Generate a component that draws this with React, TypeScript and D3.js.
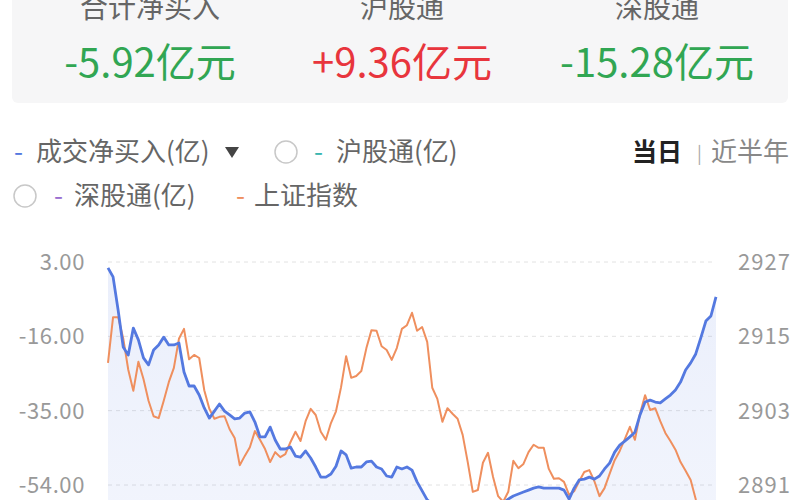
import React from 'react';
import * as d3 from 'd3';

// 当日 intraday, one point every 2 minutes (0..240)
const netBuy = [
  1.5, -0.8, -9.3, -18.7, -20.8, -13.9, -16.9, -21.5, -23.3, -19.5,
  -18.2, -16.2, -18.2, -18.2, -17.7, -25.1, -28.7, -28.7, -31.0, -34.3,
  -36.9, -35.1, -33.3, -35.1, -36.1, -37.1, -36.9, -35.6, -35.3, -37.9,
  -41.7, -41.7, -39.2, -42.5, -44.8, -44.8, -44.3, -46.6, -46.9, -45.3,
  -47.1, -49.4, -52.0, -52.0, -51.2, -49.2, -45.3, -46.3, -49.7, -49.4,
  -49.4, -48.1, -47.9, -49.4, -49.9, -51.7, -52.0, -49.4, -49.9, -49.4,
  -50.2, -53.2, -55.5, -57.8, -58.9, -59.4, -60.1, -60.7, -60.9, -61.2,
  -61.7, -61.9, -62.4, -62.2, -61.7, -61.2, -60.7, -59.6, -58.6, -57.6,
  -56.8, -56.3, -55.8, -55.3, -54.8, -54.5, -54.8, -54.8, -54.8, -54.8,
  -55.3, -57.6, -54.8, -52.7, -52.5, -52.0, -52.5, -51.7, -49.9, -48.4,
  -45.6, -43.8, -42.8, -41.7, -40.5, -36.1, -32.8, -32.3, -32.8, -33.0,
  -32.0, -31.0, -29.7, -27.7, -24.6, -22.8, -20.5, -16.4, -12.1, -10.8,
  -5.92,
];

const shIndex = [
  2910.7, 2918.1, 2918.1, 2914.7, 2909.6, 2906.2, 2910.9, 2908.1, 2904.6, 2902.1,
  2901.8, 2904.6, 2907.6, 2909.9, 2914.6, 2916.2, 2911.3, 2912.0, 2911.5, 2906.3,
  2903.3, 2901.7, 2902.0, 2902.1, 2900.0, 2898.6, 2894.2, 2895.7, 2897.1, 2899.7,
  2898.3, 2896.8, 2894.7, 2896.3, 2895.5, 2896.0, 2897.9, 2899.6, 2898.1, 2901.3,
  2903.3, 2902.3, 2899.6, 2898.3, 2901.0, 2902.9, 2906.8, 2911.8, 2908.3, 2908.6,
  2909.4, 2913.1, 2916.0, 2915.9, 2913.4, 2912.8, 2911.2, 2913.1, 2916.2, 2916.8,
  2918.8, 2915.9, 2916.5, 2914.1, 2906.7, 2904.9, 2901.2, 2903.4, 2902.5, 2901.7,
  2899.1, 2894.7, 2889.9, 2890.2, 2894.6, 2896.2, 2892.3, 2889.2, 2888.3, 2889.9,
  2894.9, 2893.7, 2894.4, 2896.3, 2897.5, 2897.0, 2897.0, 2893.6, 2892.0, 2892.1,
  2891.5, 2889.4, 2890.0, 2891.6, 2893.1, 2893.4, 2891.6, 2889.2, 2890.5, 2892.8,
  2895.0, 2896.5, 2898.4, 2900.4, 2898.3, 2902.5, 2905.5, 2903.1, 2903.4, 2901.3,
  2899.4, 2898.1, 2896.7, 2894.7, 2893.3, 2891.8, 2888.7, 2886.6, 2885.4, 2884.1,
  2882.9,
];

const leftTicks = [3, -16, -35, -54];
const rightTicks = [2927, 2915, 2903, 2891];

const summaryTitles = ['合计净买入', '沪股通', '深股通'];
const summaryValues = ['-5.92亿元', '+9.36亿元', '-15.28亿元'];

const FONT = '"Noto Sans CJK SC", "Noto Sans", sans-serif';
const BLUE = '#5479e0';
const ORANGE = '#ef8f5e';
const GREEN = '#31a653';
const RED = '#e8353d';

const App: React.FC = () => {
  const minutes = netBuy.map((_, i) => i * 2);

  const x = d3.scaleLinear().domain([0, 240]).range([108, 716]);
  const yLeft = d3.scaleLinear().domain([-54, 3]).range([485, 262]);
  const yRight = d3.scaleLinear().domain([2891, 2927]).range([485, 262]);

  const blueLine = d3.line<number>()
    .x((_, i) => x(minutes[i]))
    .y(d => yLeft(d));
  const blueArea = d3.area<number>()
    .x((_, i) => x(minutes[i]))
    .y0(620)
    .y1(d => yLeft(d));
  const orangeLine = d3.line<number>()
    .x((_, i) => x(minutes[i]))
    .y(d => yRight(d));

  const colX = [150, 402, 657];

  return (
    <svg width={800} height={500} style={{ display: 'block', fontFamily: FONT }}>
      <style>{'body{margin:0}'}</style>
      <defs>
        <linearGradient id="fillGrad" x1="0" y1="0" x2="0" y2="1">
          <stop offset="0%" stopColor={BLUE} stopOpacity={0.12} />
          <stop offset="100%" stopColor={BLUE} stopOpacity={0.06} />
        </linearGradient>
      </defs>
      <rect width={800} height={500} fill="#fff" />

      {/* summary panel */}
      <rect x={12} y={-10} width={776} height={113} rx={6} fill="#f6f6f7" />
      {summaryTitles.map((t, i) => (
        <text key={t} x={colX[i]} y={18} textAnchor="middle" fontSize={28} fill="#666">{t}</text>
      ))}
      {summaryValues.map((v, i) => (
        <text key={v} x={colX[i]} y={77} textAnchor="middle" fontSize={40}
          fill={v.startsWith('+') ? RED : GREEN}>{v}</text>
      ))}

      {/* legend */}
      <g fontSize={26} fill="#666">
        <text x={14} y={161} fill={BLUE}>-</text>
        <text x={36} y={161}>成交净买入(亿)</text>
        <path d="M225,147 L239,147 L232,158 Z" fill="#444" />
        <circle cx={286} cy={152} r={11} fill="none" stroke="#c8c8c8" strokeWidth={1.5} />
        <text x={314} y={161} fill="#3bb6b0">-</text>
        <text x={336} y={161}>沪股通(亿)</text>
        <text x={632} y={161} fontSize={25} fontWeight="bold" fill="#222">当日</text>
        <text x={697} y={160} fontSize={18} fill="#aaa">|</text>
        <text x={711} y={161} fill="#888">近半年</text>
        <circle cx={25} cy={196} r={11} fill="none" stroke="#c8c8c8" strokeWidth={1.5} />
        <text x={54} y={205} fill="#9a6fd0">-</text>
        <text x={74} y={205}>深股通(亿)</text>
        <text x={236} y={205} fill={ORANGE}>-</text>
        <text x={254} y={205}>上证指数</text>
      </g>

      {/* grid */}
      {leftTicks.map(t => (
        <line key={t} x1={108} x2={712} y1={yLeft(t)} y2={yLeft(t)}
          stroke="#e2e2e2" strokeDasharray="4,4" />
      ))}
      {leftTicks.map(t => (
        <text key={t} x={85} y={yLeft(t) + 8} textAnchor="end" fontSize={22}
          letterSpacing={0.6} fill="#999">{t.toFixed(2)}</text>
      ))}
      {rightTicks.map(t => (
        <text key={t} x={738} y={yRight(t) + 8} fontSize={22} letterSpacing={1}
          fill="#999">{t}</text>
      ))}

      {/* series */}
      <path d={blueArea(netBuy) || ''} fill="url(#fillGrad)" />
      <path d={orangeLine(shIndex) || ''} fill="none" stroke={ORANGE} strokeWidth={2} strokeLinejoin="round" />
      <path d={blueLine(netBuy) || ''} fill="none" stroke={BLUE} strokeWidth={2.8} strokeLinejoin="round" />
    </svg>
  );
};

export default App;
